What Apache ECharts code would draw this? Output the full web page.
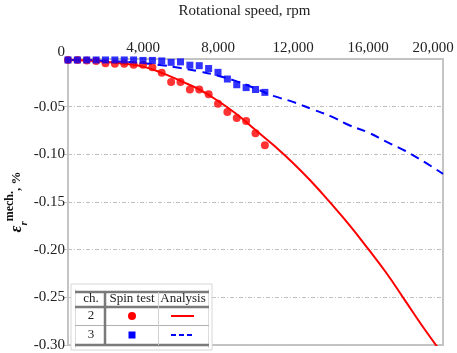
<!DOCTYPE html>
<html>
<head>
<meta charset="utf-8">
<script src="https://cdn.jsdelivr.net/npm/echarts@6/dist/echarts.min.js"></script>
<style>
  html, body { margin: 0; padding: 0; background: #fff; }
  #chart { width: 457px; height: 353px; }
</style>
</head>
<body>
<div id="chart"></div>
<script>
// spin test speeds (rpm)
const testSpeed = [0, 500, 1000, 1500, 2000, 2500, 3000, 3500, 4000, 4500, 5000,
  5500, 6000, 6500, 7000, 7500, 8000, 8500, 9000, 9500, 10000, 10500];
// measured strain, %
const spinCh2 = [-0.001, -0.001, -0.0015, -0.002, -0.0045, -0.005, -0.005, -0.006, -0.006, -0.0087, -0.0144,
  -0.024, -0.024, -0.032, -0.032, -0.037, -0.047, -0.0556, -0.062, -0.065, -0.078, -0.0905];
const spinCh3 = [-0.001, -0.001, -0.001, -0.001, -0.001, -0.001, -0.001, -0.001, -0.0015, -0.0015, -0.002,
  -0.0035, -0.003, -0.0065, -0.007, -0.010, -0.014, -0.021, -0.027, -0.030, -0.032, -0.035];

// analysis curves
const analysisSpeed = [0, 1000, 2000, 3000, 4000, 5000, 6000, 7000, 8000, 9000, 10000,
  11000, 12000, 13000, 14000, 15000, 16000, 17000, 18000, 19000, 20000];
const analysisCh2 = [-0.001, -0.0015, -0.003, -0.005, -0.008, -0.0145, -0.023, -0.032, -0.044, -0.058, -0.0745,
  -0.091, -0.109, -0.129, -0.151, -0.174, -0.199, -0.225, -0.254, -0.283, -0.31];
const analysisCh3 = [-0.001, -0.001, -0.002, -0.003, -0.0045, -0.0065, -0.0095, -0.013, -0.0175, -0.0235, -0.031,
  -0.039, -0.045, -0.0525, -0.060, -0.0695, -0.077, -0.087, -0.0965, -0.108, -0.1205];

// legend table rows
const legendHead = ['ch.', 'Spin test', 'Analysis'];
const legendCh = ['2', '3'];

const RED = '#ff0000';
const BLUE = '#0000ff';
const FONT = 'Liberation Serif';

const zip = (xs, ys) => xs.map((x, i) => [x, ys[i]]);

const chart = echarts.init(document.getElementById('chart'));

// legend table drawn as graphic
const tx = 71, ty = 284;
const colCh = 91, colSpin = 132, colAna = 183;
const rowHead = 299, row2 = 316, row3 = 335;
const textStyle = (t, x, y) => ({
  type: 'text', x: x, y: y,
  style: { text: t, font: '13px "' + FONT + '"', fill: '#222', align: 'center', verticalAlign: 'middle' },
  z: 102
});
const hline = (y, x1, x2, w, c) => ({
  type: 'line', shape: { x1: x1, y1: y, x2: x2, y2: y }, style: { stroke: c, lineWidth: w }, z: 101
});
const vline = (x, y1, y2, w, c) => ({
  type: 'line', shape: { x1: x, y1: y1, x2: x, y2: y2 }, style: { stroke: c, lineWidth: w }, z: 101
});

const legendGraphic = [
  { type: 'rect', shape: { x: tx, y: ty, width: 141, height: 66 },
    style: { fill: '#fff', stroke: '#d6d6d6', lineWidth: 1 }, z: 100 },
  vline(75.5, 289, 348, 1, '#dcdcdc'),
  vline(208.5, 289, 348, 1, '#dcdcdc'),
  hline(292, 75, 209, 2.5, '#7a7a7a'),
  hline(307, 75, 209, 2.5, '#7a7a7a'),
  hline(325.5, 75, 209, 1, '#b0b0b0'),
  hline(345, 75, 209, 2.5, '#7a7a7a'),
  vline(105, 292, 345, 2.5, '#7a7a7a'),
  vline(158.5, 292, 345, 1, '#d0d0d0'),
  textStyle(legendHead[0], colCh, rowHead),
  textStyle(legendHead[1], colSpin, rowHead),
  textStyle(legendHead[2], colAna, rowHead),
  textStyle(legendCh[0], colCh, row2),
  textStyle(legendCh[1], colCh, row3),
  { type: 'circle', shape: { cx: colSpin, cy: row2, r: 4 }, style: { fill: RED }, z: 102 },
  { type: 'rect', shape: { x: colSpin - 3.5, y: row3 - 3.5, width: 7, height: 7 }, style: { fill: BLUE }, z: 102 },
  { type: 'line', shape: { x1: 171, y1: row2, x2: 194, y2: row2 }, style: { stroke: RED, lineWidth: 2 }, z: 102 },
  { type: 'line', shape: { x1: 171, y1: row3, x2: 195, y2: row3 },
    style: { stroke: BLUE, lineWidth: 2, lineDash: [5, 3] }, z: 102 }
];

const option = {
  animation: false,
  backgroundColor: '#fff',
  textStyle: { fontFamily: FONT },
  grid: {
    left: 68, right: 14, top: 59, bottom: 8,
    outerBoundsMode: 'none',
    containLabel: false,
    show: true, borderColor: '#c4c4c4', borderWidth: 2, backgroundColor: 'transparent'
  },
  xAxis: {
    type: 'value',
    position: 'top',
    min: 0, max: 20000, interval: 4000,
    name: 'Rotational speed, rpm',
    nameLocation: 'middle',
    nameGap: 40,
    nameMoveOverlap: false,
    nameTextStyle: { fontFamily: FONT, fontSize: 15, color: '#222', padding: [0, 22, 0, 0] },
    axisLine: { show: false },
    axisTick: { show: false },
    splitLine: { show: false },
    axisLabel: {
      showMinLabel: false,
      margin: 3,
      fontFamily: FONT, fontSize: 15, color: '#222',
      formatter: v => v === 20000 ? '{m|' + v.toLocaleString('en-US') + '}' : v.toLocaleString('en-US'),
      rich: { m: { fontFamily: FONT, fontSize: 15, color: '#222', padding: [0, 20, 0, 0] } }
    }
  },
  yAxis: {
    type: 'value',
    min: -0.3, max: 0, interval: 0.05,
    name: '{e|ε}{r|r}{m|mech.}{p|, %}',
    nameLocation: 'middle',
    nameRotate: 90,
    nameGap: 38,
    nameMoveOverlap: false,
    nameTextStyle: {
      rich: {
        e: { fontFamily: FONT, fontSize: 17, fontStyle: 'italic', fontWeight: 'bold', color: '#111', lineHeight: 26, verticalAlign: 'middle' },
        r: { fontFamily: FONT, fontSize: 11, fontStyle: 'italic', fontWeight: 'bold', color: '#111', verticalAlign: 'bottom', lineHeight: 12 },
        m: { fontFamily: FONT, fontSize: 12, fontWeight: 'bold', color: '#111', verticalAlign: 'top', lineHeight: 12 },
        p: { fontFamily: FONT, fontSize: 13, fontWeight: 'bold', color: '#111', verticalAlign: 'middle' }
      }
    },
    axisLine: { show: false },
    axisTick: { show: true, length: 4, lineStyle: { color: '#c4c4c4' } },
    splitLine: { show: true, lineStyle: { color: '#c0c0c0', width: 1, type: [4, 2, 1, 2] } },
    axisLabel: {
      margin: 3,
      fontFamily: FONT, fontSize: 15, color: '#222',
      formatter: v => v === 0 ? '{z|0}' : v.toFixed(2),
      rich: { z: { fontFamily: FONT, fontSize: 15, color: '#222', padding: [0, 0, 14, 0] } }
    }
  },
  series: [
    {
      name: 'Analysis ch.2', type: 'line', data: zip(analysisSpeed, analysisCh2),
      smooth: true, showSymbol: false, clip: true,
      lineStyle: { color: RED, width: 2 }, z: 2
    },
    {
      name: 'Analysis ch.3', type: 'line', data: zip(analysisSpeed, analysisCh3),
      smooth: true, showSymbol: false, clip: true,
      lineStyle: { color: BLUE, width: 2, type: [9, 6] }, z: 2
    },
    {
      name: 'Spin test ch.2', type: 'scatter', data: zip(testSpeed, spinCh2),
      symbol: 'circle', symbolSize: 8, itemStyle: { color: RED }, z: 3
    },
    {
      name: 'Spin test ch.3', type: 'scatter', data: zip(testSpeed, spinCh3),
      symbol: 'rect', symbolSize: 7, itemStyle: { color: BLUE }, z: 4
    }
  ],
  graphic: legendGraphic
};

chart.setOption(option);
</script>
</body>
</html>
